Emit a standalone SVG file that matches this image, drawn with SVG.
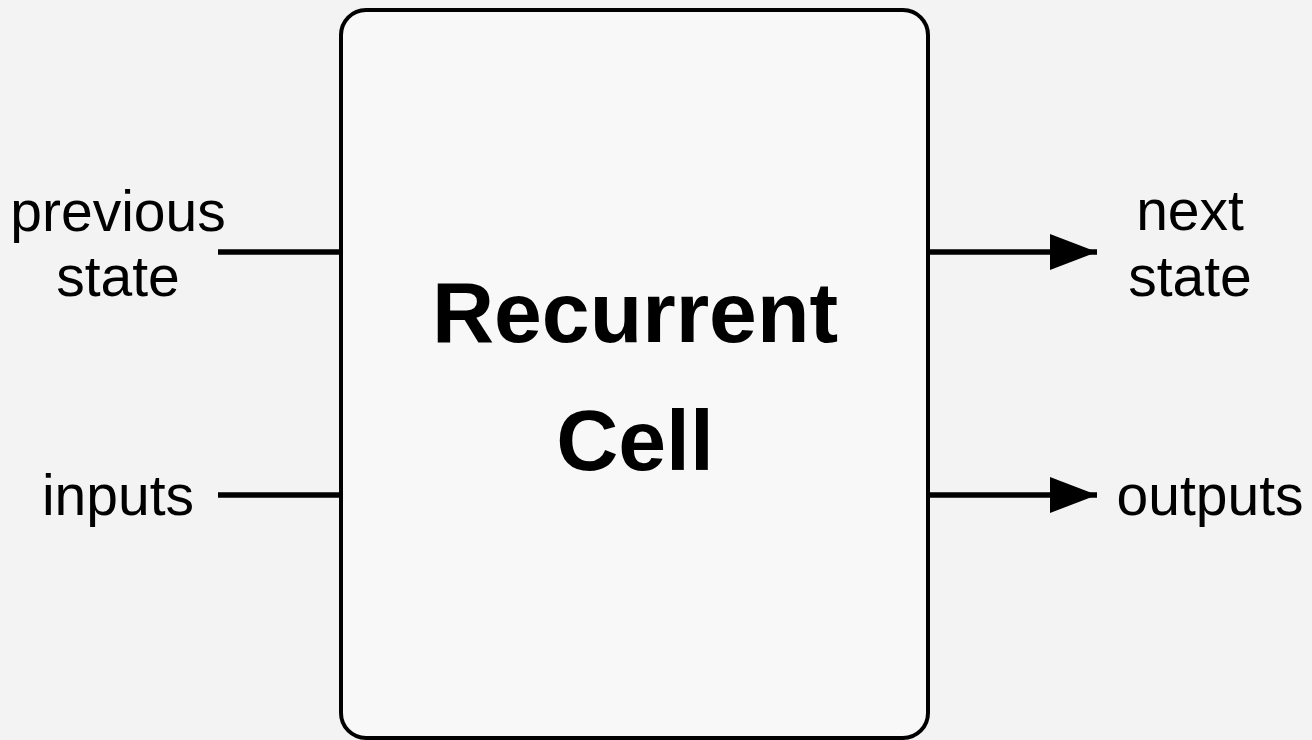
<svg xmlns="http://www.w3.org/2000/svg" width="1312" height="740" viewBox="0 0 1312 740">
<style>
.lbl{font-family:"Liberation Sans",Arial,sans-serif;font-size:57px;fill:#000;text-anchor:middle}
.title{font-family:"Liberation Sans",Arial,sans-serif;font-size:86px;font-weight:bold;fill:#000;text-anchor:middle}
.wire{stroke:#000;stroke-width:5.5;fill:none}
</style>
<defs>
<marker id="ah" markerUnits="userSpaceOnUse" markerWidth="48" markerHeight="38" refX="47" refY="19" orient="auto">
<path d="M0,1 L47,19 L0,37 Z" fill="#000"/>
</marker>
</defs>
<rect width="1312" height="740" fill="#f3f3f3"/>
<g id="cell">
<rect x="341" y="10" width="587" height="728" rx="25" ry="25" fill="#f8f8f8" stroke="#000" stroke-width="4"/>
<text class="title" x="635" y="342">Recurrent</text>
<text class="title" x="635" y="470">Cell</text>
</g>
<g id="prev-state"><text class="lbl" x="118" y="231">previous</text><text class="lbl" x="118" y="296">state</text></g>
<g id="inputs"><text class="lbl" x="118" y="515">inputs</text></g>
<g id="next-state"><text class="lbl" x="1190" y="230">next</text><text class="lbl" x="1190" y="296">state</text></g>
<g id="outputs"><text class="lbl" x="1210" y="515">outputs</text></g>
<g id="connectors">
<line class="wire" x1="218" y1="252" x2="343" y2="252"/>
<line class="wire" x1="218" y1="495" x2="343" y2="495"/>
<line class="wire" x1="926" y1="252" x2="1097" y2="252" marker-end="url(#ah)"/>
<line class="wire" x1="926" y1="495" x2="1097" y2="495" marker-end="url(#ah)"/>
</g>
</svg>
